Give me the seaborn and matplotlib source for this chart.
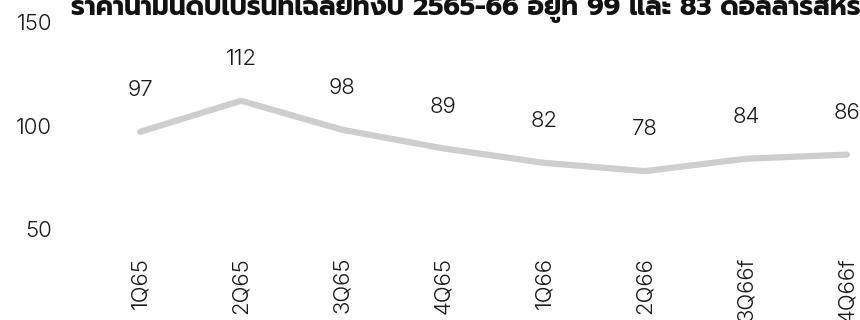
import pandas as pd
import seaborn as sns
import matplotlib
matplotlib.use("Agg")
import matplotlib.pyplot as plt

quarters = ["1Q65", "2Q65", "3Q65", "4Q65", "1Q66", "2Q66", "3Q66f", "4Q66f"]
brent = [97, 112, 98, 89, 82, 78, 84, 86]
yticks = [50, 100, 150]
title = "ราคาน้ำมันดิบเบรนท์เฉลี่ยทั้งปี 2565-66 อยู่ที่ 99 และ 83 ดอลลาร์สหรัฐต่อบาร์เรล"

sns.set_style("white")
plt.rcParams['font.family'] = ['Inter', 'Liberation Sans', 'DejaVu Sans']
plt.rcParams['font.weight'] = 300

df = pd.DataFrame({"quarter": quarters, "brent": brent})

fig = plt.figure(figsize=(8.6, 3.2), dpi=100)
ax = fig.add_axes([0.07, 0.284, 0.93, 0.647])
sns.lineplot(data=df, x="quarter", y="brent", ax=ax, color="#cecece",
             linewidth=4.5, solid_capstyle="round")

# value labels sit well above the line
for i, v in enumerate(brent):
    ax.annotate(str(v), (i, v), xytext=(0, 30), textcoords="offset points",
                ha="center", va="center", fontsize=16, color="#1a1a1a")

ax.set_xlim(-0.792, 7.129)
ax.set_ylim(50, 150)
ax.set_yticks(yticks)
ax.set_xticks(range(len(quarters)))
ax.set_xticklabels(quarters, rotation=90)
ax.tick_params(axis="x", length=0, pad=20, labelsize=16, colors="#1a1a1a")
ax.tick_params(axis="y", length=0, pad=6, labelsize=16, colors="#1a1a1a")
ax.set_xlabel("")
ax.set_ylabel("")
sns.despine(ax=ax, left=True, bottom=True)
ax.patch.set_alpha(0)

# title runs off the top and right edge as in the source
fig.text(0.083, 0.953, title, fontsize=19, fontweight="bold",
         family=['Prompt', 'Kanit', 'Anuphan', 'DejaVu Sans'],
         ha="left", va="baseline", color="#111111")

fig.savefig("out.png", dpi=100)
